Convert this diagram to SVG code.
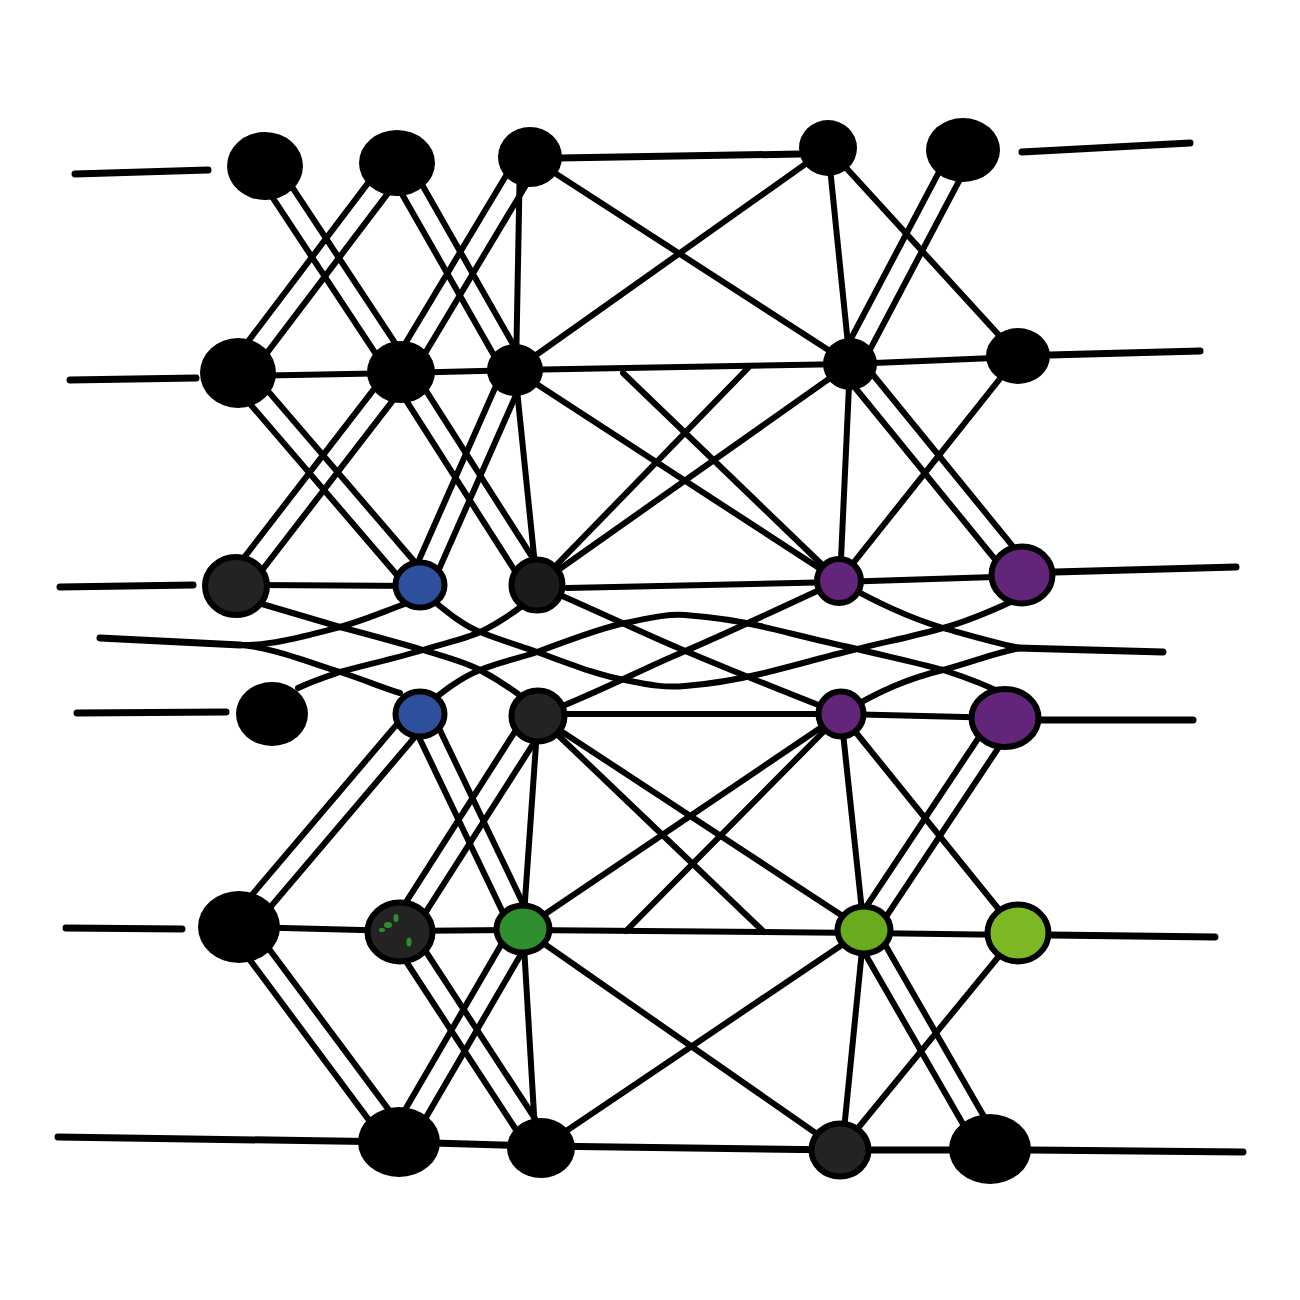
<svg xmlns="http://www.w3.org/2000/svg" width="1300" height="1300" viewBox="0 0 1300 1300">
<style>
.e{stroke:#000;stroke-width:6;stroke-linecap:round;stroke-linejoin:round;fill:none}
.s{stroke:#000;stroke-width:7;stroke-linecap:round;stroke-linejoin:round;fill:none}
.k{fill:#000}
.o{stroke:#000;stroke-width:6}
.dk{fill:#232323}
.bl{fill:#2e4f9c}
.pu{fill:#63257a}
.gr{fill:#2f8f2f}
.l1{fill:#6aaa1f}
.l2{fill:#7cb823}
</style>
<rect width="1300" height="1300" fill="#fff"/>
<g id="connectors">
<path class="s" d="M75,174 L208,170"/>
<path class="s" d="M560,158 L800,154"/>
<path class="s" d="M1022,152 L1190,143"/>
<path class="s" d="M70,380 L196,378"/>
<path class="e" d="M238,376 L401,373 L515,370 L850,364 L1018,357"/>
<path class="s" d="M1050,355 L1200,351"/>
<path class="s" d="M60,587 L193,585"/>
<path class="e" d="M236,585 L420,586"/>
<path class="e" d="M567,588 L839,582 L1022,576"/>
<path class="s" d="M1055,572 L1236,567"/>
<path class="s" d="M77,713 L226,712"/>
<path class="e" d="M567,714 L841,714 L1005,718"/>
<path class="s" d="M1040,720 L1193,720"/>
<path class="s" d="M66,928 L182,929"/>
<path class="e" d="M239,927 L400,931 L523,930 L864,933 L1018,935"/>
<path class="s" d="M1050,935 L1215,937"/>
<path class="s" d="M58,1137 L399,1142 L541,1146 L840,1150 L990,1150"/>
<path class="s" d="M1030,1150 L1243,1152"/>
<path class="s" d="M100,638 L240,645"/>
<path class="s" d="M1017,648 L1163,652"/>
<path class="e" d="M255.8,172.1 L391.8,378.1 M274.2,159.9 L410.2,365.9"/>
<path class="e" d="M388.2,156.4 L229.2,366.4 M405.8,169.6 L246.8,379.6"/>
<path class="e" d="M387.4,168.4 L505.4,375.4 M406.6,157.6 L524.6,364.6"/>
<path class="e" d="M520.6,151.3 L391.6,366.3 M539.4,162.7 L410.4,377.7"/>
<path class="e" d="M953.3,144.9 L840.3,358.9 M972.7,155.1 L859.7,369.1"/>
<path class="e" d="M520,157 L516,370"/>
<path class="e" d="M530,157 L850,364"/>
<path class="e" d="M828,148 L515,370"/>
<path class="e" d="M828,148 L850,364"/>
<path class="e" d="M828,148 L1018,356"/>
<path class="e" d="M229.7,380.2 L411.7,592.2 M246.3,365.8 L428.3,577.8"/>
<path class="e" d="M392.3,365.3 L227.3,579.3 M409.7,378.7 L244.7,592.7"/>
<path class="e" d="M391.7,377.9 L527.7,590.9 M410.3,366.1 L546.3,579.1"/>
<path class="e" d="M504.9,365.6 L409.9,580.6 M525.1,374.4 L430.1,589.4"/>
<path class="e" d="M841.5,371 L1013.5,582 M858.5,357 L1030.5,568"/>
<path class="e" d="M515,370 L537,585"/>
<path class="e" d="M515,370 L839,581"/>
<path class="e" d="M623,373 L839,581"/>
<path class="e" d="M748,368 L537,585"/>
<path class="e" d="M850,364 L537,585"/>
<path class="e" d="M850,364 L840,581"/>
<path class="e" d="M1018,356 L839,581"/>
<path class="e" d="M240,645 C270,646 305,636 340,627 C365,620 385,611 405,604"/>
<path class="e" d="M240,645 C270,647 305,661 340,672 C365,680 383,688 400,693"/>
<path class="e" d="M262,604 C300,615 320,621 340,627 C370,635 400,643 423,650 C445,657 465,662 480,670 C497,679 510,688 522,697"/>
<path class="e" d="M298,688 C315,680 328,676 340,672 C370,664 400,657 423,650 C445,643 465,639 480,632 C497,624 510,615 522,606"/>
<path class="e" d="M420,590 C445,610 460,624 480,632 C500,640 520,646 537,652 C570,664 600,676 625,680 C650,685 665,688 685,686 C710,684 735,680 760,674 C790,667 820,658 853,650 C885,642 915,636 943,628 C965,622 985,614 1015,600"/>
<path class="e" d="M420,710 C445,690 460,678 480,670 C500,662 520,658 537,652 C570,640 600,628 625,623 C650,618 665,614 685,615 C710,617 735,620 760,626 C790,633 820,641 853,648 C885,656 915,662 943,670 C965,677 985,684 1010,697"/>
<path class="e" d="M537,585 C600,612 640,632 683,650 C730,670 780,690 841,714"/>
<path class="e" d="M538,716 C600,692 640,670 683,652 C730,632 780,608 839,581"/>
<path class="e" d="M839,581 C880,605 910,618 943,628 C975,637 995,643 1020,648"/>
<path class="e" d="M841,714 C880,690 910,678 943,670 C975,661 995,653 1020,648"/>
<path class="e" d="M411.6,706.9 L230.6,919.9 M428.4,721.1 L247.4,934.1"/>
<path class="e" d="M410.1,718.8 L513.1,933.8 M429.9,709.2 L532.9,924.2"/>
<path class="e" d="M528.7,710.1 L390.7,926.1 M547.3,721.9 L409.3,937.9"/>
<path class="e" d="M995.8,711.9 L854.8,923.9 M1014.2,724.1 L873.2,936.1"/>
<path class="e" d="M538,716 L523,929"/>
<path class="e" d="M538,716 L864,930"/>
<path class="e" d="M538,716 L764,932"/>
<path class="e" d="M841,714 L523,929"/>
<path class="e" d="M841,714 L626,931"/>
<path class="e" d="M841,714 L864,930"/>
<path class="e" d="M841,714 L1018,933"/>
<path class="e" d="M230.2,933.6 L390.2,1148.6 M247.8,920.4 L407.8,1135.4"/>
<path class="e" d="M390.8,938 L531.8,1154 M409.2,926 L550.2,1142"/>
<path class="e" d="M513.5,923.5 L389.5,1136.5 M532.5,934.5 L408.5,1147.5"/>
<path class="e" d="M854.5,935.5 L980.5,1154.5 M873.5,924.5 L999.5,1143.5"/>
<path class="e" d="M523,929 L536,1148"/>
<path class="e" d="M523,929 L840,1150"/>
<path class="e" d="M541,1148 L864,930"/>
<path class="e" d="M864,930 L842,1150"/>
<path class="e" d="M1018,933 L840,1150"/>
</g>
<g id="A1"><ellipse class="k" cx="265" cy="166" rx="38" ry="34"/></g>
<g id="A2"><ellipse class="k" cx="397" cy="163" rx="38" ry="33"/></g>
<g id="A3"><ellipse class="k" cx="530" cy="157" rx="32" ry="30"/></g>
<g id="A4"><ellipse class="k" cx="828" cy="148" rx="29" ry="28"/></g>
<g id="A5"><ellipse class="k" cx="963" cy="150" rx="37" ry="32"/></g>
<g id="B1"><ellipse class="k" cx="238" cy="373" rx="38" ry="35"/></g>
<g id="B2"><ellipse class="k" cx="401" cy="372" rx="34" ry="31"/></g>
<g id="B3"><ellipse class="k" cx="515" cy="370" rx="28" ry="26"/></g>
<g id="B4"><ellipse class="k" cx="850" cy="364" rx="27" ry="26"/></g>
<g id="B5"><ellipse class="k" cx="1018" cy="356" rx="32" ry="28"/></g>
<g id="C1"><ellipse class="dk o" cx="236" cy="586" rx="31" ry="29"/></g>
<g id="C2"><ellipse class="bl o" cx="420" cy="585" rx="24.5" ry="22.5"/></g>
<g id="C3"><ellipse fill="#1b1b1b" class="o" cx="537" cy="585" rx="25.5" ry="25.5"/></g>
<g id="C4"><ellipse class="pu o" cx="839" cy="581" rx="22" ry="22"/></g>
<g id="C5"><ellipse class="pu o" cx="1022" cy="575" rx="30.5" ry="28.5"/></g>
<g id="D1"><ellipse class="k" cx="272" cy="714" rx="36" ry="32"/></g>
<g id="D2"><ellipse class="bl o" cx="420" cy="714" rx="24.5" ry="22.5"/></g>
<g id="D3"><ellipse class="dk o" cx="538" cy="716" rx="26.5" ry="25.5"/></g>
<g id="D4"><ellipse class="pu o" cx="841" cy="714" rx="22.5" ry="22.5"/></g>
<g id="D5"><ellipse class="pu o" cx="1005" cy="718" rx="33.5" ry="29"/></g>
<g id="E1"><ellipse class="k" cx="239" cy="927" rx="41" ry="36"/></g>
<g id="E2"><ellipse class="dk o" cx="400" cy="932" rx="32.5" ry="29.5"/>
<ellipse fill="#2f8f2f" cx="388" cy="925" rx="4" ry="3"/><ellipse fill="#2f8f2f" cx="396" cy="918" rx="2.5" ry="4"/><ellipse fill="#2f8f2f" cx="382" cy="930" rx="3" ry="2"/><ellipse fill="#2f8f2f" cx="409" cy="942" rx="2.5" ry="4.5"/></g>
<g id="E3"><ellipse class="gr o" cx="523" cy="929" rx="26.5" ry="23.5"/></g>
<g id="E4"><ellipse class="l1 o" cx="864" cy="930" rx="26.5" ry="23.5"/></g>
<g id="E5"><ellipse class="l2 o" cx="1018" cy="933" rx="30.5" ry="28.5"/></g>
<g id="F1"><ellipse class="k" cx="399" cy="1142" rx="41" ry="35"/></g>
<g id="F2"><ellipse class="k" cx="541" cy="1148" rx="34" ry="30"/></g>
<g id="F3"><ellipse class="dk o" cx="840" cy="1150" rx="28.5" ry="26.5"/></g>
<g id="F4"><ellipse class="k" cx="990" cy="1149" rx="41" ry="35"/></g>
</svg>
